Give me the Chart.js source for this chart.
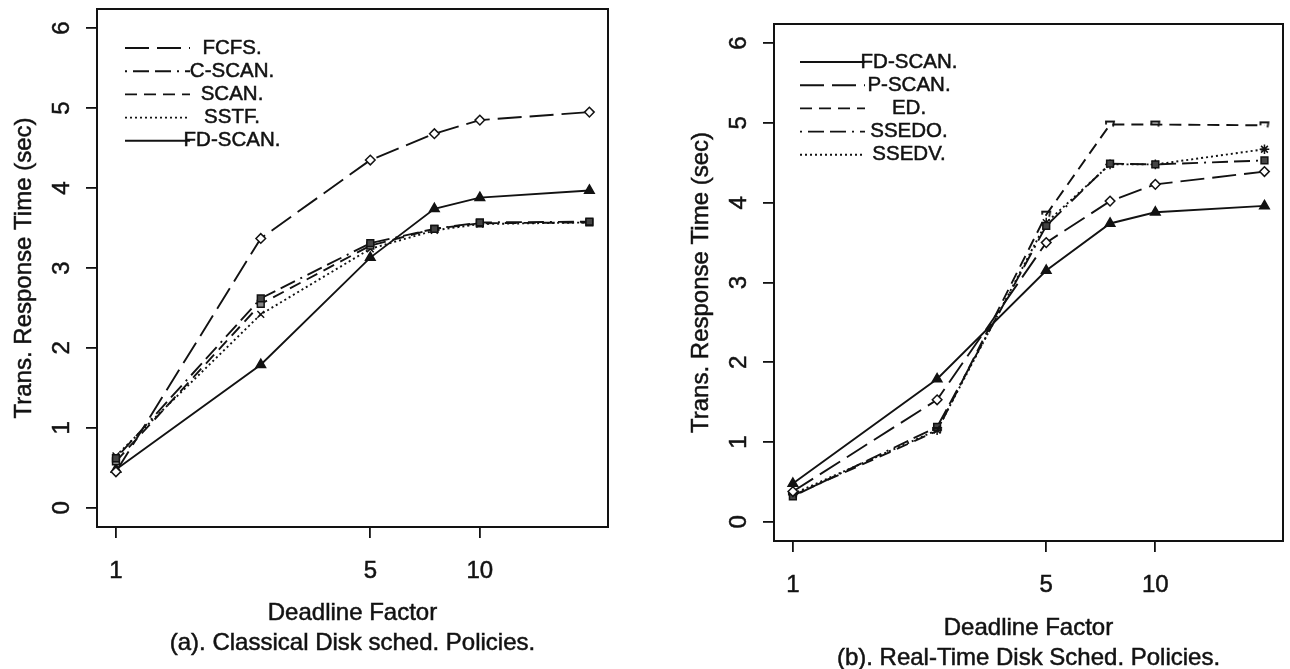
<!DOCTYPE html>
<html>
<head>
<meta charset="utf-8">
<title>Transaction response time vs deadline factor</title>
<script src="https://cdn.jsdelivr.net/npm/chart.js@4.4.1/dist/chart.umd.min.js"></script>
<style>
  html, body { margin: 0; padding: 0; background: #fff; }
  .panel { position: absolute; top: 0; width: 645px; height: 669px; }
  #panelA { left: 0; }
  #panelB { left: 645px; }
</style>
</head>
<body>
<div class="panel" id="panelA"><canvas id="chartA" width="645" height="669"></canvas></div>
<div class="panel" id="panelB"><canvas id="chartB" width="645" height="669"></canvas></div>
<script>
// deadline factors that were simulated (x axis, log scale)
const deadlineFactors = [1, 2.5, 5, 7.5, 10, 20];
const xTickValues = [1, 5, 10];
const yTickValues = [0, 1, 2, 3, 4, 5, 6];

// (a) classical disk scheduling policies - mean response time (sec)
const fcfs    = [0.45, 3.37, 4.35, 4.68, 4.85, 4.95];
const cScan   = [0.62, 2.62, 3.31, 3.49, 3.57, 3.58];
const scan    = [0.58, 2.55, 3.28, 3.49, 3.56, 3.57];
const sstf    = [0.65, 2.42, 3.24, 3.47, 3.55, 3.57];
const fdScanA = [0.48, 1.79, 3.13, 3.74, 3.88, 3.97];

// (b) real-time disk scheduling policies
const fdScanB = [0.48, 1.79, 3.15, 3.74, 3.88, 3.96];
const pScan   = [0.38, 1.53, 3.50, 4.02, 4.23, 4.39];
const ed      = [0.33, 1.14, 3.85, 4.98, 4.98, 4.97];
const ssedo   = [0.32, 1.19, 3.71, 4.49, 4.48, 4.53];
const ssedv   = [0.35, 1.15, 3.75, 4.48, 4.48, 4.67];

const INK = '#121212';
const FONT = '"Liberation Sans", Arial, Helvetica, sans-serif';
const W = 645, H = 669;

// line patterns
const SOLID = [];
const LONG_DASH = [24, 8];
const DOT_DASH = [2, 6, 16, 6, 16, 6];
const DASH = [12, 7];
const DOTTED = [2, 3];

// little "7" shaped glyph used for the ED points
function sevenGlyph() {
  const c = document.createElement('canvas');
  c.width = 12; c.height = 12;
  const g = c.getContext('2d');
  g.strokeStyle = INK;
  g.lineWidth = 1.8;
  g.beginPath();
  g.moveTo(1, 3); g.lineTo(10, 3); g.lineTo(9, 8);
  g.moveTo(2, 3); g.lineTo(2, 6);
  g.stroke();
  return c;
}

function series(label, values, dash, pointStyle, fill) {
  return {
    label,
    data: deadlineFactors.map((x, i) => ({ x, y: values[i] })),
    borderColor: INK,
    borderWidth: 1.9,
    borderDash: dash,
    tension: 0,
    fill: false,
    pointStyle,
    pointRadius: pointStyle === 'triangle' ? 5.5 : 4.8,
    pointBorderWidth: 1.5,
    pointBorderColor: INK,
    pointBackgroundColor: fill
  };
}

// slightly heavier text, like the printed figure
function inkText(ctx, text, x, y) {
  ctx.fillText(text, x, y);
  ctx.lineWidth = 0.5;
  ctx.setLineDash([]);
  ctx.strokeText(text, x, y);
}

// box, rotated y labels, axis titles, caption and the legend
const paperPlugin = {
  id: 'paper',
  afterDraw(chart, args, opts) {
    const { ctx, chartArea: a } = chart;
    const yScale = chart.scales.y;
    ctx.save();
    ctx.strokeStyle = INK;
    ctx.fillStyle = INK;
    ctx.setLineDash([]);
    ctx.lineWidth = 2;
    ctx.strokeRect(a.left, a.top, a.right - a.left, a.bottom - a.top);

    // y tick labels, written sideways
    ctx.font = '24px ' + FONT;
    ctx.textAlign = 'center';
    ctx.textBaseline = 'middle';
    yScale.ticks.forEach(t => {
      const y = yScale.getPixelForValue(t.value);
      ctx.save();
      ctx.translate(a.left - 35, y);
      ctx.rotate(-Math.PI / 2);
      inkText(ctx, String(t.value), 0, 0);
      ctx.restore();
    });

    ctx.save();
    ctx.translate(a.left - 73, (a.top + a.bottom) / 2);
    ctx.rotate(-Math.PI / 2);
    inkText(ctx, 'Trans. Response Time (sec)', 0, 0);
    ctx.restore();

    const cx = (a.left + a.right) / 2;
    inkText(ctx, 'Deadline Factor', cx, a.bottom + opts.titleGap);
    inkText(ctx, opts.caption, cx, a.bottom + opts.titleGap + 30);

    // legend: line sample on the left, label centred on a common x
    ctx.font = '20.5px ' + FONT;
    chart.data.datasets.forEach((ds, i) => {
      const y = opts.legendTop + i * 23.2;
      ctx.lineWidth = 1.9;
      ctx.setLineDash(ds.borderDash);
      ctx.beginPath();
      ctx.moveTo(opts.lineX1, y);
      ctx.lineTo(opts.lineX2, y);
      ctx.stroke();
      inkText(ctx, ds.label, opts.textX, y);
    });
    ctx.restore();
  }
};

function makeChart(id, datasets, area, legend, caption) {
  return new Chart(document.getElementById(id), {
    type: 'line',
    data: { datasets },
    options: {
      responsive: false,
      animation: false,
      devicePixelRatio: 1,
      layout: { padding: { left: 0, top: area.top, right: W - area.right, bottom: 0 } },
      plugins: {
        legend: { display: false },
        tooltip: { enabled: false },
        paper: Object.assign({ caption }, legend)
      },
      scales: {
        x: {
          type: 'logarithmic',
          min: 0.887,
          max: 22.5,
          afterBuildTicks: s => { s.ticks = xTickValues.map(v => ({ value: v })); },
          afterFit: s => { s.height = H - area.bottom; },
          ticks: {
            autoSkip: false,
            maxRotation: 0,
            padding: 19,
            color: INK,
            textStrokeColor: INK,
            textStrokeWidth: 0.5,
            font: { family: FONT, size: 24 },
            callback: v => String(v)
          },
          grid: { drawOnChartArea: false, tickLength: 11, color: INK, lineWidth: 1.8 },
          border: { display: false }
        },
        y: {
          min: -0.24,
          max: 6.24,
          afterBuildTicks: s => { s.ticks = yTickValues.map(v => ({ value: v })); },
          afterFit: s => { s.width = area.left; },
          ticks: { display: false },
          grid: { drawOnChartArea: false, tickLength: 11, color: INK, lineWidth: 1.8 },
          border: { display: false }
        }
      }
    },
    plugins: [paperPlugin]
  });
}

document.addEventListener('DOMContentLoaded', () => {
  makeChart('chartA', [
    series('FCFS.', fcfs, LONG_DASH, 'rectRot', '#fff'),
    series('C-SCAN.', cScan, DOT_DASH, 'rect', '#444'),
    series('SCAN.', scan, DASH, 'rect', '#888'),
    series('SSTF.', sstf, DOTTED, 'crossRot', INK),
    series('FD-SCAN.', fdScanA, SOLID, 'triangle', INK)
  ], { left: 97, right: 608, top: 9, bottom: 527 },
     { legendTop: 48, lineX1: 125, lineX2: 190, textX: 232, titleGap: 86 },
     '(a). Classical Disk sched. Policies.');

  makeChart('chartB', [
    series('FD-SCAN.', fdScanB, SOLID, 'triangle', INK),
    series('P-SCAN.', pScan, LONG_DASH, 'rectRot', '#fff'),
    series('ED.', ed, DASH, sevenGlyph(), INK),
    series('SSEDO.', ssedo, DOT_DASH, 'rect', '#444'),
    series('SSEDV.', ssedv, DOTTED, 'star', INK)
  ], { left: 129, right: 638, top: 24, bottom: 541 },
     { legendTop: 62, lineX1: 155, lineX2: 220, textX: 264, titleGap: 87 },
     '(b). Real-Time Disk Sched. Policies.');
});
</script>
</body>
</html>
